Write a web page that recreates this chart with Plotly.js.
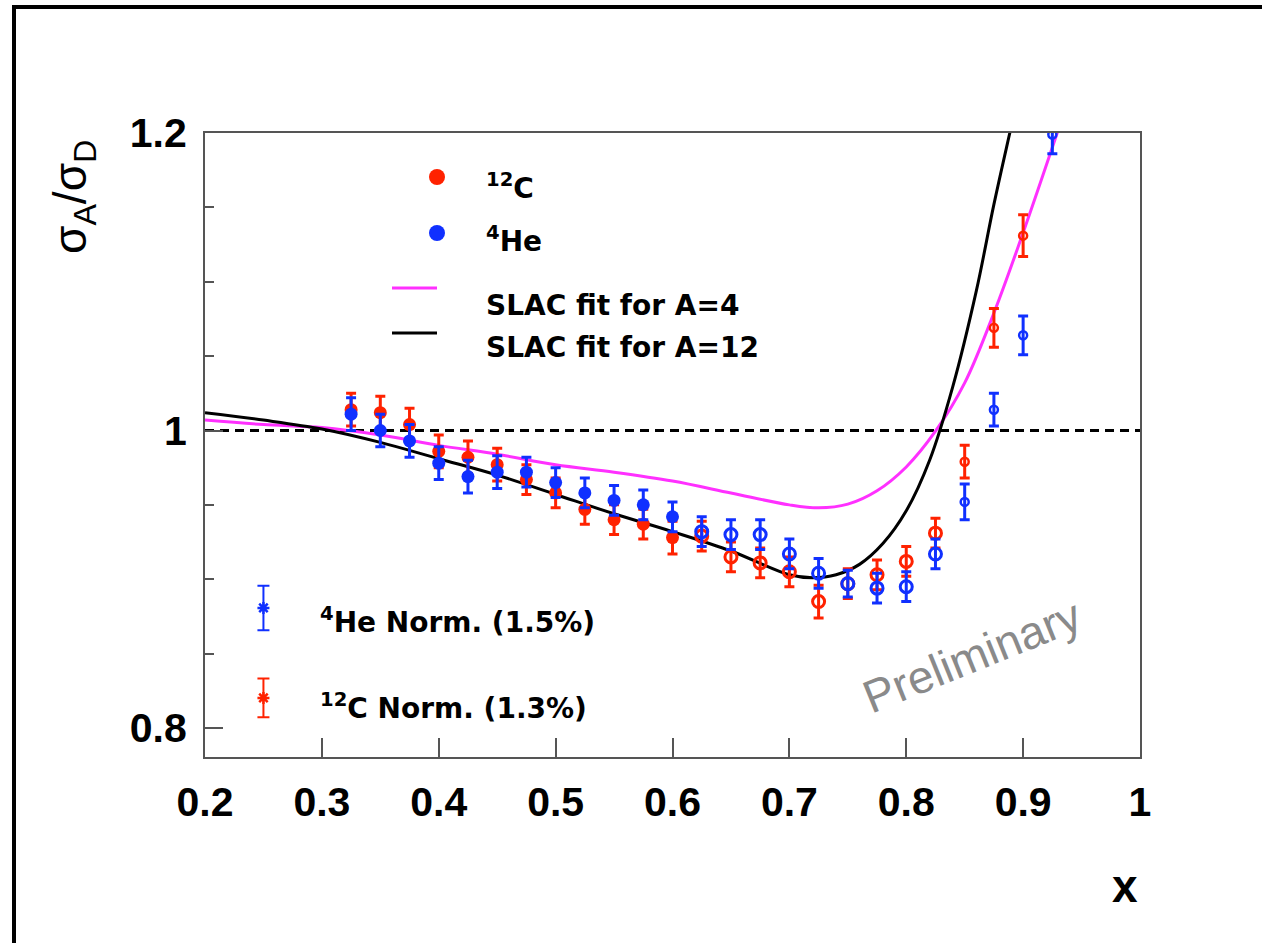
<!DOCTYPE html>
<html><head><meta charset="utf-8">
<script src="https://cdn.plot.ly/plotly-3.0.1.min.js"></script>
<style>html,body{margin:0;padding:0;background:#fff;}</style>
</head><body><div id="chart" style="width:1262px;height:943px;"></div>
<script>
// ---- data ----
const xC12 = [0.325,0.35,0.375,0.4,0.425,0.45,0.475,0.5,0.525,0.55,0.575,0.6,0.625,0.65,0.675,0.7,0.725,0.75,0.775,0.8,0.825,0.85,0.875,0.9];
const yC12 = [1.014,1.012,1.004,0.986,0.982,0.977,0.967,0.958,0.947,0.940,0.937,0.928,0.929,0.915,0.911,0.905,0.885,0.897,0.903,0.912,0.931,0.979,1.069,1.131];
const eC12 = [0.011,0.011,0.011,0.011,0.011,0.011,0.010,0.010,0.010,0.010,0.010,0.011,0.010,0.010,0.010,0.010,0.011,0.010,0.010,0.010,0.010,0.011,0.013,0.014];

const xHe4 = [0.325,0.35,0.375,0.4,0.425,0.45,0.475,0.5,0.525,0.55,0.575,0.6,0.625,0.65,0.675,0.7,0.725,0.75,0.775,0.8,0.825,0.85,0.875,0.9,0.925];
const yHe4 = [1.011,1.000,0.993,0.978,0.969,0.972,0.972,0.965,0.958,0.953,0.950,0.942,0.932,0.930,0.930,0.917,0.904,0.897,0.894,0.895,0.917,0.952,1.014,1.064,1.199];
const eHe4 = [0.011,0.011,0.011,0.011,0.011,0.011,0.010,0.010,0.010,0.010,0.010,0.010,0.010,0.010,0.010,0.010,0.010,0.009,0.010,0.010,0.010,0.012,0.011,0.013,0.013];

const xFitA4 = [0.2,0.25,0.3,0.35,0.4,0.45,0.5,0.55,0.6,0.65,0.7,0.725,0.75,0.775,0.8,0.825,0.85,0.875,0.9,0.93];
const yFitA4 = [1.007,1.004,1.002,0.997,0.990,0.984,0.977,0.972,0.966,0.958,0.950,0.948,0.9505,0.9595,0.9755,0.9995,1.032,1.079,1.133,1.202];

const xFitA12 = [0.2,0.25,0.3,0.35,0.4,0.45,0.5,0.55,0.6,0.65,0.7,0.72,0.74,0.76,0.78,0.8,0.82,0.84,0.86,0.875,0.89,0.9];
const yFitA12 = [1.012,1.007,1.001,0.992,0.981,0.970,0.957,0.944,0.932,0.919,0.903,0.901,0.903,0.910,0.924,0.946,0.980,1.030,1.094,1.152,1.205,1.240];

const normX = [0.25, 0.25];
const normY = [0.8807, 0.8202];     // He, C
const normPct = [1.5, 1.3];

const xTickLabels = ['0.2','0.3','0.4','0.5','0.6','0.7','0.8','0.9','1'];
const yTickLabels = ['0.8','1','1.2'];

// ---- styling ----
const RED = '#ff2200', BLUE = '#1030ff', MAG = '#ff30ff';
const FONT = 'Liberation Sans, Arial, Helvetica, sans-serif';
const LFONT = 'DejaVu Sans, Liberation Sans, sans-serif';
const L = 205, R = 1140, T = 133, B = 757;
const pxX = p => (p - L) / (R - L);
const pxY = p => (B - p) / (B - T);

function markerStyle(xs, color) {
  return {
    color: color, opacity: 1,
    symbol: xs.map(x => x < 0.61 ? 'circle' : 'circle-open'),
    size: xs.map(x => x < 0.61 ? 13 : (x < 0.84 ? 12 : 8)),
    line: { color: color, width: xs.map(x => x < 0.61 ? 0 : (x < 0.84 ? 3 : 2.5)) }
  };
}

const traces = [
  { x: xFitA4, y: yFitA4, mode: 'lines', line: { color: MAG, width: 3, shape: 'spline', smoothing: 1 }, hoverinfo: 'skip' },
  { x: xFitA12, y: yFitA12, mode: 'lines', line: { color: '#000', width: 3, shape: 'spline', smoothing: 1 }, hoverinfo: 'skip' },
  { x: xC12, y: yC12, mode: 'markers', marker: markerStyle(xC12, RED),
    error_y: { type: 'data', array: eC12, visible: true, color: RED, thickness: 3, width: 5 } },
  { x: xHe4, y: yHe4, mode: 'markers', marker: markerStyle(xHe4, BLUE),
    error_y: { type: 'data', array: eHe4, visible: true, color: BLUE, thickness: 3, width: 5 } },
  { x: [normX[0]], y: [normY[0]], mode: 'markers',
    marker: { symbol: 'asterisk-open', size: 10, color: BLUE, opacity: 1, line: { color: BLUE, width: 2.5 } },
    error_y: { type: 'data', array: [normPct[0] / 100], visible: true, color: BLUE, thickness: 2, width: 6 } },
  { x: [normX[1]], y: [normY[1]], mode: 'markers',
    marker: { symbol: 'asterisk-open', size: 10, color: RED, opacity: 1, line: { color: RED, width: 2.5 } },
    error_y: { type: 'data', array: [normPct[1] / 100], visible: true, color: RED, thickness: 2, width: 6 } }
];

const annFont = (size, weight, color, fam) => ({ family: fam || FONT, size: size, weight: weight || 'bold', color: color || '#000' });
function ann(text, x, y, size, opts) {
  return Object.assign({ text: text, x: pxX(x), y: pxY(y), xref: 'paper', yref: 'paper', showarrow: false,
    xanchor: 'left', yanchor: 'middle', font: annFont(size, 'bold', '#000', LFONT) }, opts || {});
}

const annotations = [
  ann('σ<sub>A</sub>/σ<sub>D</sub>', 74, 197, 46, { xanchor: 'center', textangle: -90, font: annFont(46, 'normal') }),
  ann('x', 1125, 886, 46, { xanchor: 'center', font: annFont(46) }),
  ann('<sup>12</sup>C', 484, 186, 28),
  ann('<sup>4</sup>He', 484, 240, 28),
  ann('SLAC fit for A=4', 484, 305, 28),
  ann('SLAC fit for A=12', 484, 347, 28),
  ann('<sup>4</sup>He Norm. (' + normPct[0] + '%)', 318, 620, 28),
  ann('<sup>12</sup>C Norm. (' + normPct[1] + '%)', 318, 706, 28),
  ann('Preliminary', 972, 656, 46, { xanchor: 'center', textangle: -22, font: annFont(46, 'normal', '#8a8a8a') })
];

const shapes = [
  { type: 'line', xref: 'x', yref: 'y', x0: 0.2, x1: 1.0, y0: 1.0, y1: 1.0, layer: 'below',
    line: { color: '#000', width: 3, dash: '9px,6px' } },
  { type: 'circle', xref: 'paper', yref: 'paper', x0: pxX(429), x1: pxX(445), y0: pxY(185), y1: pxY(169), fillcolor: RED, line: { width: 0 } },
  { type: 'circle', xref: 'paper', yref: 'paper', x0: pxX(429), x1: pxX(445), y0: pxY(241), y1: pxY(225), fillcolor: BLUE, line: { width: 0 } },
  { type: 'line', xref: 'paper', yref: 'paper', x0: pxX(392), x1: pxX(437), y0: pxY(288), y1: pxY(288), line: { color: MAG, width: 3 } },
  { type: 'line', xref: 'paper', yref: 'paper', x0: pxX(392), x1: pxX(437), y0: pxY(333), y1: pxY(333), line: { color: '#000', width: 3 } },
  { type: 'line', xref: 'paper', yref: 'paper', x0: pxX(14), x1: pxX(14), y0: pxY(5), y1: pxY(950), line: { color: '#000', width: 4 } },
  { type: 'line', xref: 'paper', yref: 'paper', x0: pxX(12), x1: pxX(1270), y0: pxY(7), y1: pxY(7), line: { color: '#000', width: 4 } }
];

const AXC = '#555';
const layout = {
  width: 1262, height: 943,
  margin: { l: L, r: 1262 - R, t: T, b: 943 - B, pad: 0 },
  paper_bgcolor: '#fff', plot_bgcolor: '#fff',
  showlegend: false,
  xaxis: {
    range: [0.2, 1.0], tickmode: 'array',
    tickvals: xTickLabels.map(Number), ticktext: xTickLabels,
    ticks: 'inside', ticklen: 19, tickwidth: 2, tickcolor: AXC,
    showline: true, linecolor: AXC, linewidth: 2, mirror: true,
    showgrid: false, zeroline: false,
    tickfont: { family: FONT, size: 41, weight: 'bold', color: '#000' },
    ticklabelstandoff: 8
  },
  yaxis: {
    range: [0.7805, 1.2], tickmode: 'array',
    tickvals: yTickLabels.map(Number), ticktext: yTickLabels,
    ticks: 'inside', ticklen: 18, tickwidth: 2, tickcolor: AXC,
    minor: { tickmode: 'linear', tick0: 0.8, dtick: 0.05, ticks: 'inside', ticklen: 9, tickwidth: 2, tickcolor: AXC, showgrid: false },
    showline: true, linecolor: AXC, linewidth: 2, mirror: true,
    showgrid: false, zeroline: false,
    tickfont: { family: FONT, size: 41, weight: 'bold', color: '#000' },
    ticklabelstandoff: 8
  },
  annotations: annotations,
  shapes: shapes
};

Plotly.newPlot('chart', traces, layout, { staticPlot: true, displayModeBar: false });
</script>
</body></html>
